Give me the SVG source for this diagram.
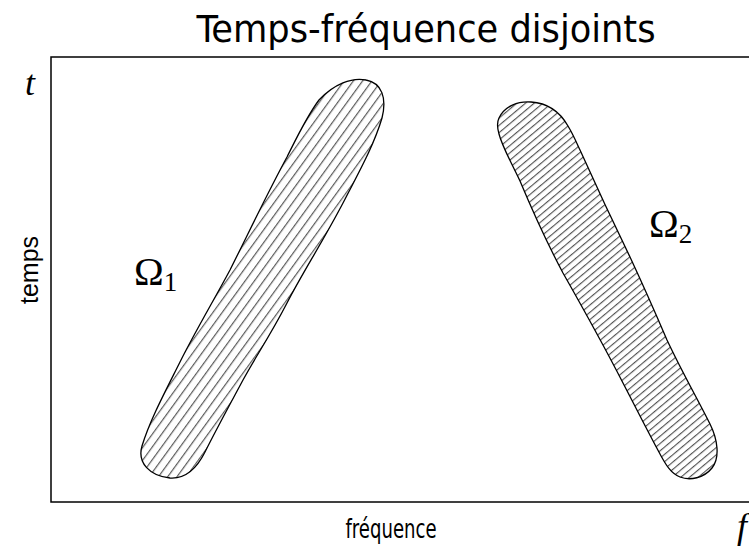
<svg xmlns="http://www.w3.org/2000/svg" width="749" height="548" viewBox="0 0 749 548">
<style>
.title{font-family:"DejaVu Sans Condensed","Liberation Sans Narrow","Liberation Sans",sans-serif;font-size:37px;fill:#000}
.lab{font-family:"DejaVu Sans Condensed","Liberation Sans",sans-serif;font-size:26px;fill:#000}
.ax{font-family:"Liberation Sans",Arial,sans-serif;font-size:25px;fill:#000}
.it{font-family:"Liberation Serif","DejaVu Serif",serif;font-style:italic;font-size:36px;fill:#000}
.om{font-family:"Liberation Serif","DejaVu Serif",serif;font-size:40px;fill:#000}
.sub{font-family:"Liberation Serif","DejaVu Serif",serif;font-size:27px;fill:#000}
.blob{stroke:#000;stroke-width:1.3;stroke-linejoin:round}
</style>
<defs>
<pattern id="h1" width="20" height="7.5" patternUnits="userSpaceOnUse" patternTransform="rotate(-54)">
<line x1="0" y1="3.5" x2="20" y2="3.5" stroke="#000" stroke-width="0.8"/>
</pattern>
<pattern id="h2" width="20" height="5.6" patternUnits="userSpaceOnUse" patternTransform="rotate(-40)">
<line x1="0" y1="2.5" x2="20" y2="2.5" stroke="#000" stroke-width="0.8"/>
</pattern>
</defs>
<rect width="749" height="548" fill="#fff"/>
<text class="title" x="426" y="42" text-anchor="middle" textLength="459" lengthAdjust="spacingAndGlyphs">Temps-fréquence disjoints</text>
<g id="frame">
<rect x="51" y="57" width="720" height="445" fill="none" stroke="#000" stroke-width="1.5"/>
</g>
<text class="it" x="25" y="95">t</text>
<text class="it" x="737" y="538">f</text>
<text class="ax" transform="translate(38,270) rotate(-90)" text-anchor="middle">temps</text>
<text class="lab" x="391" y="538" text-anchor="middle" textLength="91" lengthAdjust="spacingAndGlyphs">fréquence</text>
<g id="omega1">
<path class="blob" fill="url(#h1)" d="M 319,100 C 334,84 352,77 366,80 C 382,83 387,98 382,118 C 374,145 360,170 343,203 C 322,243 303,272 287,303 C 270,336 256,356 243,380 C 228,408 216,430 205,452 C 196,470 185,479 170,478 C 150,476 137,463 142,446 C 150,420 165,392 180,362 C 196,330 214,300 230,270 C 250,230 268,192 287,157 C 298,135 307,116 319,100 Z"/>
<text class="om" x="134" y="285">Ω<tspan class="sub" dy="6">1</tspan></text>
</g>
<g id="omega2">
<path class="blob" fill="url(#h2)" d="M 499,118 C 505,106 518,101 531,102 C 547,103 560,112 568,126 C 574,136 577,144 580,150 C 598,190 613,222 630,257 C 644,287 655,312 667,340 C 682,372 697,398 710,424 C 718,440 720,458 712,468 C 704,478 690,481 680,477 C 670,473 665,463 660,454 C 647,430 636,408 623,383 C 604,346 584,310 563,273 C 547,243 533,212 520,181 C 510,160 502,146 499,134 C 497,127 497,122 499,118 Z"/>
<text class="om" x="649" y="237">Ω<tspan class="sub" dy="6">2</tspan></text>
</g>
</svg>
